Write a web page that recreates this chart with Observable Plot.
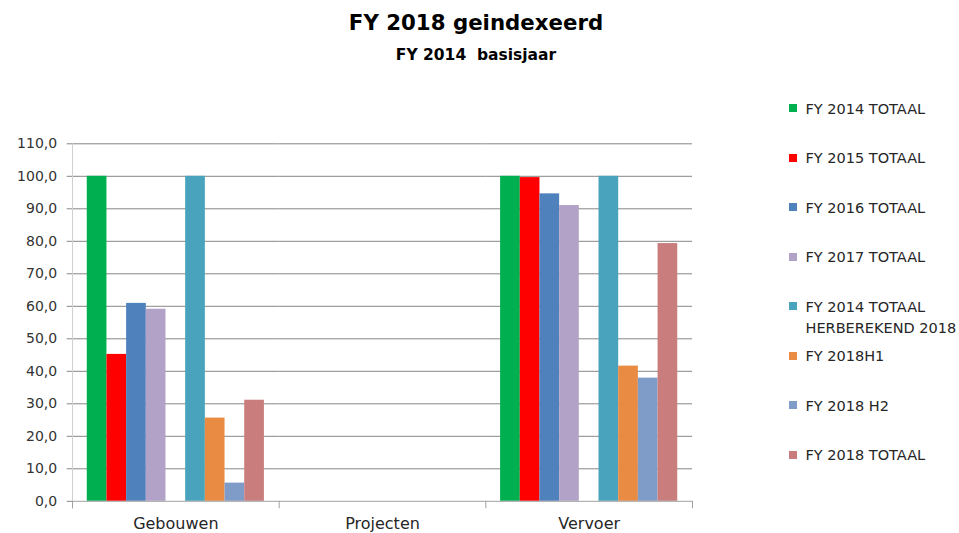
<!DOCTYPE html>
<html>
<head>
<meta charset="utf-8">
<script src="https://cdn.jsdelivr.net/npm/d3@7"></script>
<script src="https://cdn.jsdelivr.net/npm/@observablehq/plot@0.6"></script>
<style>
  html, body { margin: 0; padding: 0; background: #fff; }
  #wrap { position: relative; width: 959px; height: 533px; overflow: hidden; font-family: "DejaVu Sans", sans-serif; }
  .title { position: absolute; left: 0; width: 952px; text-align: center; font-weight: bold; color: #000; line-height: 1; white-space: pre; }
  #chart { position: absolute; left: 0; top: 100px; }
  .leg { position: absolute; left: 805.5px; width: 160px; font-size: 14.5px; line-height: 21px; color: #262626; }
  .sw { position: absolute; left: 789px; width: 8px; height: 8px; }
</style>
</head>
<body>
<div id="wrap">
  <div class="title" id="t1" style="font-size:21.3px; top:12px;"></div>
  <div class="title" id="t2" style="font-size:15.5px; top:47.6px;"></div>
  <div id="chart"></div>
</div>
<script>
// ---- data ----
const titleText = "FY 2018 geindexeerd";
const subtitleText = "FY 2014  basisjaar";
const categories = ["Gebouwen", "Projecten", "Vervoer"];
const series = [
  "FY 2014 TOTAAL",
  "FY 2015 TOTAAL",
  "FY 2016 TOTAAL",
  "FY 2017 TOTAAL",
  "FY 2014 TOTAAL HERBEREKEND 2018",
  "FY 2018H1",
  "FY 2018 H2",
  "FY 2018 TOTAAL"
];
const gebouwen  = [100, 45.2, 60.9, 59.1, 100, 25.6, 5.6, 31.1];
const projecten = [0, 0, 0, 0, 0, 0, 0, 0];
const vervoer   = [100, 99.6, 94.6, 91.0, 100, 41.6, 37.9, 79.3];
const colors = ["#00b050", "#ff0000", "#4f81bd", "#b3a2c8", "#4aa3bc", "#e98b43", "#7f9bc8", "#c97d7d"];
const yTicks = [0, 10, 20, 30, 40, 50, 60, 70, 80, 90, 100, 110];
const yTickLabels = ["0,0", "10,0", "20,0", "30,0", "40,0", "50,0", "60,0", "70,0", "80,0", "90,0", "100,0", "110,0"];

// ---- table ----
const valuesByCategory = [gebouwen, projecten, vervoer];
const data = [];
categories.forEach((c, ci) => series.forEach((s, si) => data.push({category: c, series: s, value: valuesByCategory[ci][si]})));
// empty slot between the first four and the last four series
const slots = [...series.slice(0, 4), "__gap__", ...series.slice(4)];

const gridColor = "#868686";
const baseColor = "#a0a0a0";
const axisLineColor = "#d0d0d0";

const chart = Plot.plot({
  width: 700,
  height: 433,
  marginLeft: 72,
  marginRight: 8,
  marginTop: 43.3,
  marginBottom: 32.2,
  style: {fontFamily: "DejaVu Sans", fontSize: "14px", background: "white", overflow: "visible"},
  fx: {domain: categories, padding: 0, round: false, axis: null, label: null},
  x: {domain: slots, paddingInner: 0, paddingOuter: 0.75, round: false, axis: null, label: null},
  y: {domain: [0, 110], axis: null, label: null},
  color: {domain: series, range: colors},
  marks: [
    Plot.gridY({ticks: yTicks.slice(1), stroke: gridColor, strokeOpacity: 1}),
    Plot.barY(data, {fx: "category", x: "series", y: "value", fill: "series"}),
    Plot.ruleY([0], {stroke: baseColor}),
    Plot.frame({anchor: "left", facetAnchor: "left", stroke: axisLineColor, insetBottom: -6.5}),
    Plot.frame({anchor: "left", stroke: baseColor, insetTop: 357.5, insetBottom: -6.5}),
    Plot.frame({anchor: "right", facetAnchor: "right", stroke: baseColor, insetTop: 357.5, insetBottom: -6.5}),
    Plot.axisY({
      ticks: yTicks,
      tickFormat: d => yTickLabels[yTicks.indexOf(d)],
      tickSize: 5.3, tickPadding: 10,
      stroke: gridColor, fill: "#333", fontSize: 14, label: null
    }),
    Plot.axisFx({anchor: "bottom", tickSize: 0, tickPadding: 16, fontSize: 16, fill: "#262626", label: null})
  ]
});
document.getElementById("chart").appendChild(chart);

document.getElementById("t1").textContent = titleText;
document.getElementById("t2").textContent = subtitleText;

// ---- legend ----
const wrap = document.getElementById("wrap");
series.forEach((s, i) => {
  const b = 114.3 + 49.5 * i;
  const sw = document.createElement("div");
  sw.className = "sw";
  sw.style.top = (b - 10.3) + "px";
  sw.style.background = colors[i];
  wrap.appendChild(sw);
  const t = document.createElement("div");
  t.className = "leg";
  t.style.top = (b - 15.5) + "px";
  t.textContent = s;
  wrap.appendChild(t);
});
</script>
</body>
</html>
